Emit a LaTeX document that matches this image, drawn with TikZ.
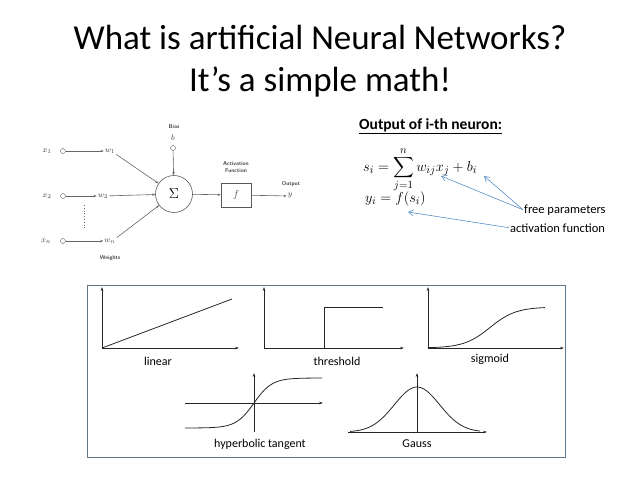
\documentclass[tikz,border=0pt]{standalone}
\usepackage{amsmath}
\usepackage{fontspec}
\setmainfont{Carlito}
\usetikzlibrary{positioning,arrows.meta}

\definecolor{framegray}{RGB}{95,120,140}
\definecolor{notecol}{RGB}{91,143,201}

\begin{document}
\begin{tikzpicture}[x=1pt,y=-1pt,
    dot/.style={circle,draw=black!65,thin,inner sep=0pt,minimum size=5pt},
    lbl/.style={font=\fontsize{5.5}{6.5}\selectfont\sffamily\bfseries,text=black!75,align=center,inner sep=1pt},
    var/.style={font=\fontsize{8.5}{9}\selectfont,text=black!75,inner sep=1pt},
    wire/.style={draw=black!60,line width=0.6pt,-{Stealth[length=3pt,width=2.5pt]}},
    axis/.style={draw=black!85,line width=0.5pt,-{Stealth[length=4pt,width=2.5pt]}},
    curve/.style={draw=black!85,line width=0.8pt},
    plotname/.style={font=\fontsize{12}{14}\selectfont,anchor=base},
    note/.style={font=\fontsize{12.5}{14}\selectfont,anchor=base west,inner sep=1pt},
    notearrow/.style={draw=notecol,line width=0.6pt,-{Straight Barb[length=5pt,width=6pt]}}]
  \useasboundingbox (0,0) rectangle (638,479);

  % title
  \node[font=\fontsize{35}{40}\selectfont,anchor=base] (title1) at (320,49) {What is artificial Neural Networks?};
  \node[font=\fontsize{35}{40}\selectfont,anchor=base] (title2) at (320,91) {It’s a simple math!};

  % neuron
  \node[circle,draw=black!65,line width=0.6pt,minimum size=37pt,inner sep=0pt,font=\Large] (sum) at (174,194) {$\Sigma$};
  \node[draw=black!65,line width=0.6pt,minimum width=30pt,minimum height=24pt] (fbox) at (236,195) {\textcolor{black!75}{$f$}};

  \node[var] (x1) at (47,151) {$x_1$};
  \node[dot] (c1) at (63,151) {};
  \node[var] (w1) at (110,151) {$w_1$};
  \node[var] (x2) at (47,196) {$x_2$};
  \node[dot] (c2) at (63,196) {};
  \node[var] (w2) at (103,196) {$w_2$};
  \node[var] (xn) at (46,241) {$x_n$};
  \node[dot] (cn) at (63,241) {};
  \node[var] (wn) at (110,241) {$w_n$};
  \draw[black!60,dotted,line width=0.8pt] (84,205) -- (84,228);
  \node[lbl] (weights) at (110,258) {Weights};

  \node[lbl] (bias) at (174,127) {Bias};
  \node[var] (b) at (173,138) {$b$};
  \node[dot] (cb) at (173,148) {};

  \node[lbl] (actfn) at (236,167) {Activation\\Function};
  \node[lbl] (output) at (291,184) {Output};
  \node[var] (y) at (290,196) {$y$};

  \draw[wire] (c1) -- (w1);
  \draw[wire] (c2) -- (w2);
  \draw[wire] (cn) -- (wn);
  \draw[wire] (w1.south east) -- (sum);
  \draw[wire] (w2) -- (sum);
  \draw[wire] (wn.north east) -- (sum);
  \draw[wire] (cb) -- (sum);
  \draw[wire] (sum) -- (fbox);
  \draw[wire] (fbox) -- (y);

  % formulas
  \node[font=\fontsize{15.5}{17}\selectfont\bfseries,anchor=base west,inner sep=0pt] (head) at (359,129) {\underline{Output of i-th neuron:}};
  \node[font=\fontsize{15}{18}\selectfont,anchor=base west,inner sep=0pt] (seq) at (363,171) {$s_i = \displaystyle\sum_{j=1}^{n} w_{ij}x_j + b_i$};
  \node[font=\fontsize{15}{18}\selectfont,anchor=base west,inner sep=0pt] (yeq) at (365,202) {$y_i = f(s_i)$};
  \node[note] (free) at (523,213) {free parameters};
  \node[note] (act) at (509,232) {activation function};
  \coordinate (wtip) at (441,176);
  \coordinate (btip) at (484,176);
  \coordinate (ftip) at (408,212);
  \draw[notearrow] (free.west) -- (wtip);
  \draw[notearrow] (free.west) -- (btip);
  \draw[notearrow] (act.west) -- (ftip);

  % activation functions
  \draw[framegray,line width=0.8pt] (87,285) rectangle (565,457);

  \draw[axis] (102,348) -- (102,287);
  \draw[axis] (102,348) -- (239,348);
  \draw[curve] (102,348) -- (232,299);
  \node[plotname] (linear) at (158,365) {linear};

  \draw[axis] (264,348) -- (264,287);
  \draw[axis] (264,348) -- (404,348);
  \draw[curve,line width=1pt] (264,348) -- (324,348) -- (324,307) -- (383,307);
  \node[plotname] (threshold) at (337,365) {threshold};

  \draw[axis] (428,348) -- (428,287);
  \draw[axis] (428,348) -- (564,348);
  \draw[curve] plot[domain=428:545,samples=60] (\x,{348-41/(1+exp(-(\x-490)/13))});
  \node[plotname] (sigmoid) at (490,362) {sigmoid};

  \draw[axis] (254,432) -- (254,373);
  \draw[axis] (185,403) -- (323,403);
  \draw[curve] plot[domain=185:322,samples=60] (\x,{403-25*tanh((\x-254)/18)});
  \node[plotname] (tanh) at (260,447) {hyperbolic tangent};

  \draw[axis] (417,432) -- (417,373);
  \draw[axis] (348,432) -- (487,432);
  \draw[curve] plot[domain=350:480,samples=70] (\x,{432-45*exp(-((\x-417)/32)^2)});
  \node[plotname] (gauss) at (417,447) {Gauss};
\end{tikzpicture}
\end{document}
